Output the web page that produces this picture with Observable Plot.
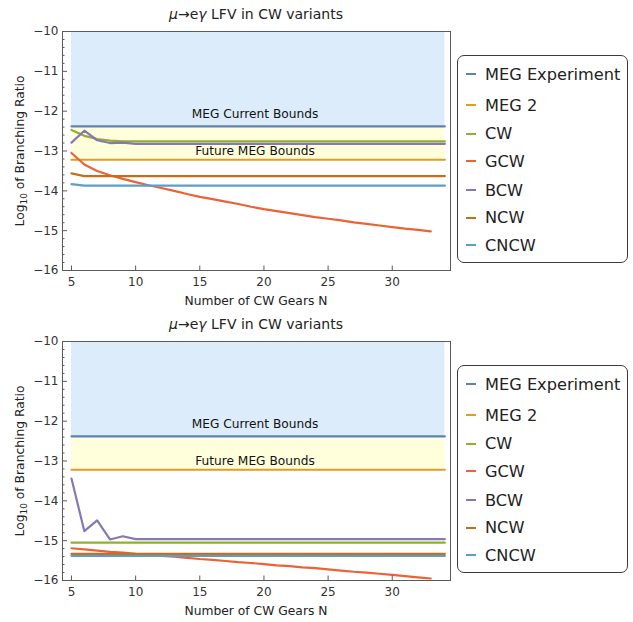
<!DOCTYPE html>
<html>
<head>
<meta charset="utf-8">
<script src="https://cdn.jsdelivr.net/npm/d3@7"></script>
<script src="https://cdn.jsdelivr.net/npm/@observablehq/plot@0.6"></script>
<style>
  html, body { margin: 0; padding: 0; background: #fff; }
  #root { position: relative; width: 633px; height: 622px; font-family: "DejaVu Sans", sans-serif; color: #222; overflow: hidden; }
  .panel { position: absolute; left: 0; width: 633px; height: 310px; }
  .panel svg { position: absolute; left: 0; top: 0; }
  .title { position: absolute; left: 62px; width: 388px; text-align: center; font-size: 14px; top: 6px; white-space: nowrap; }
  .xlab { position: absolute; left: 62px; width: 388px; text-align: center; font-size: 12.3px; top: 294px; white-space: nowrap; }
  .ylab { position: absolute; left: 20px; top: 151px; transform: translate(-50%, -50%) rotate(-90deg); font-size: 12.3px; white-space: nowrap; }
  .ylab sub { font-size: 9px; vertical-align: -3px; line-height: 0; }
  .legend { position: absolute; left: 457px; top: 55px; width: 171px; height: 208px; border: 1.5px solid #3a3a3a; border-radius: 7px; box-sizing: border-box; }
  .row { position: absolute; left: 8px; height: 20px; display: flex; align-items: center; font-size: 16.2px; white-space: nowrap; }
  .row span.sw { display: inline-block; width: 10px; height: 2px; margin-right: 9px; }
</style>
</head>
<body>
<div id="root"></div>
<script>
// ---------- data ----------
const seriesNames = ["MEG Experiment", "MEG 2", "CW", "GCW", "BCW", "NCW", "CNCW"];
const seriesColors = ["#5E81B5", "#E19C24", "#8FB032", "#EB6235", "#8778B3", "#C56E1A", "#5D9EC7"];
const bandColors = ["#dcecfb", "#ffffdc"];

const xStart = 5;
const xEnd = 34.1;
const megExperiment = -12.38;   // log10(4.2e-13)
const meg2 = -13.22;            // log10(6e-14)

const gcwN = [5,6,7,8,9,10,11,12,13,14,15,16,17,18,19,20,21,22,23,24,25,26,27,28,29,30,31,32,33];

// Top panel
const topCW_N   = [5, 6, 7, 8, 9, xEnd];
const topCW     = [-12.47, -12.62, -12.70, -12.74, -12.76, -12.76];
const topGCW    = [-13.05,-13.34,-13.50,-13.61,-13.70,-13.78,-13.86,-13.93,-14.00,-14.08,-14.15,-14.21,-14.27,-14.33,-14.40,-14.46,-14.51,-14.56,-14.61,-14.66,-14.70,-14.74,-14.79,-14.83,-14.87,-14.91,-14.95,-14.98,-15.02];
const topBCW_N  = [5, 6, 7, 8, 9, 10, xEnd];
const topBCW    = [-12.79, -12.49, -12.73, -12.80, -12.79, -12.82, -12.82];
const topNCW_N  = [5, 6, xEnd];
const topNCW    = [-13.56, -13.63, -13.63];
const topCNCW_N = [5, 6, xEnd];
const topCNCW   = [-13.83, -13.87, -13.87];

// Bottom panel
const botCW_N   = [5, xEnd];
const botCW     = [-15.05, -15.05];
const botGCW    = [-15.19,-15.22,-15.25,-15.28,-15.30,-15.33,-15.35,-15.38,-15.40,-15.43,-15.46,-15.48,-15.51,-15.54,-15.56,-15.59,-15.62,-15.64,-15.67,-15.69,-15.72,-15.75,-15.78,-15.80,-15.83,-15.86,-15.89,-15.92,-15.95];
const botBCW_N  = [5, 6, 7, 8, 9, 10, xEnd];
const botBCW    = [-13.44, -14.76, -14.49, -14.97, -14.89, -14.96, -14.96];
const botNCW_N  = [5, xEnd];
const botNCW    = [-15.33, -15.33];
const botCNCW_N = [5, xEnd];
const botCNCW   = [-15.38, -15.38];

const yTicks = [-16, -15, -14, -13, -12, -11, -10];
const yMinorTicks = [-15.8,-15.6,-15.4,-15.2,-14.8,-14.6,-14.4,-14.2,-13.8,-13.6,-13.4,-13.2,-12.8,-12.6,-12.4,-12.2,-11.8,-11.6,-11.4,-11.2,-10.8,-10.6,-10.4,-10.2];
const xTicks = [5, 10, 15, 20, 25, 30];

const boundLabels = [
  {text: "MEG Current Bounds", x: 19.3, y: -12.08},
  {text: "Future MEG Bounds", x: 19.3, y: -13.01}
];

const titleText = "<i>μ</i>→e<i>γ</i> LFV in CW variants";
const xLabelText = "Number of CW Gears N";
const yLabelText = "Log<sub>10</sub> of Branching Ratio";

// ---------- build ----------
function rows(name, xs, ys) { return xs.map((x, i) => ({series: name, N: x, v: ys[i]})); }

const panels = [
  {
    top: 0,
    lines: [
      ...rows("MEG Experiment", [xStart, xEnd], [megExperiment, megExperiment]),
      ...rows("MEG 2", [xStart, xEnd], [meg2, meg2]),
      ...rows("CW", topCW_N, topCW),
      ...rows("GCW", gcwN, topGCW),
      ...rows("BCW", topBCW_N, topBCW),
      ...rows("NCW", topNCW_N, topNCW),
      ...rows("CNCW", topCNCW_N, topCNCW)
    ]
  },
  {
    top: 310,
    lines: [
      ...rows("MEG Experiment", [xStart, xEnd], [megExperiment, megExperiment]),
      ...rows("MEG 2", [xStart, xEnd], [meg2, meg2]),
      ...rows("CW", botCW_N, botCW),
      ...rows("GCW", gcwN, botGCW),
      ...rows("BCW", botBCW_N, botBCW),
      ...rows("NCW", botNCW_N, botNCW),
      ...rows("CNCW", botCNCW_N, botCNCW)
    ]
  }
];

const bands = [
  {x1: xStart, x2: xEnd, y1: -10, y2: megExperiment, fill: bandColors[0]},
  {x1: xStart, x2: xEnd, y1: megExperiment, y2: meg2, fill: bandColors[1]}
];

const W = 460, H = 310, mL = 62, mR = 10, mT = 31, mB = 40;
const frameW = W - mL - mR, frameH = H - mT - mB;
const axisColor = "#5a5a5a";

const root = document.getElementById("root");

for (const p of panels) {
  const div = document.createElement("div");
  div.className = "panel";
  div.style.top = p.top + "px";

  const chart = Plot.plot({
    width: W, height: H,
    marginLeft: mL, marginRight: mR, marginTop: mT, marginBottom: mB,
    style: {fontFamily: "DejaVu Sans, sans-serif", fontSize: "11px", color: "#333", background: "transparent", overflow: "visible"},
    x: {domain: [4.30, 34.54]},
    y: {domain: [-16, -10]},
    color: {domain: seriesNames, range: seriesColors},
    marks: [
      Plot.rect(bands, {x1: "x1", x2: "x2", y1: "y1", y2: "y2", fill: "fill"}),
      Plot.line(p.lines, {x: "N", y: "v", z: "series", stroke: "series", strokeWidth: 2.2}),
      Plot.text(boundLabels, {x: "x", y: "y", text: "text", fontSize: 12.2, fill: "#111"}),
      Plot.frame({stroke: axisColor, strokeWidth: 1}),
      Plot.tickY(yTicks, {y: d => d, insetRight: frameW - 5, stroke: axisColor}),
      Plot.tickY(yMinorTicks, {y: d => d, insetRight: frameW - 2.5, stroke: axisColor}),
      Plot.tickX(xTicks, {x: d => d, insetTop: frameH - 4.5, stroke: axisColor}),
      Plot.axisY(yTicks, {tickSize: 0, tickPadding: 4, label: null, tickFormat: d => "\u2212" + Math.abs(d), fontSize: 12}),
      Plot.axisX(xTicks, {tickSize: 0, tickPadding: 7, label: null, fontSize: 12})
    ]
  });
  div.appendChild(chart);

  const t = document.createElement("div"); t.className = "title"; t.innerHTML = titleText; div.appendChild(t);
  const xl = document.createElement("div"); xl.className = "xlab"; xl.textContent = xLabelText; div.appendChild(xl);
  const yl = document.createElement("div"); yl.className = "ylab"; yl.innerHTML = yLabelText; div.appendChild(yl);

  const lg = document.createElement("div"); lg.className = "legend";
  const rowTops = [8, 39, 67.5, 95, 124, 151.5, 179];
  seriesNames.forEach((name, i) => {
    const r = document.createElement("div"); r.className = "row";
    r.style.top = rowTops[i] + "px";
    const sw = document.createElement("span"); sw.className = "sw"; sw.style.background = seriesColors[i];
    r.appendChild(sw);
    r.appendChild(document.createTextNode(name));
    lg.appendChild(r);
  });
  div.appendChild(lg);

  root.appendChild(div);
}
</script>
</body>
</html>
